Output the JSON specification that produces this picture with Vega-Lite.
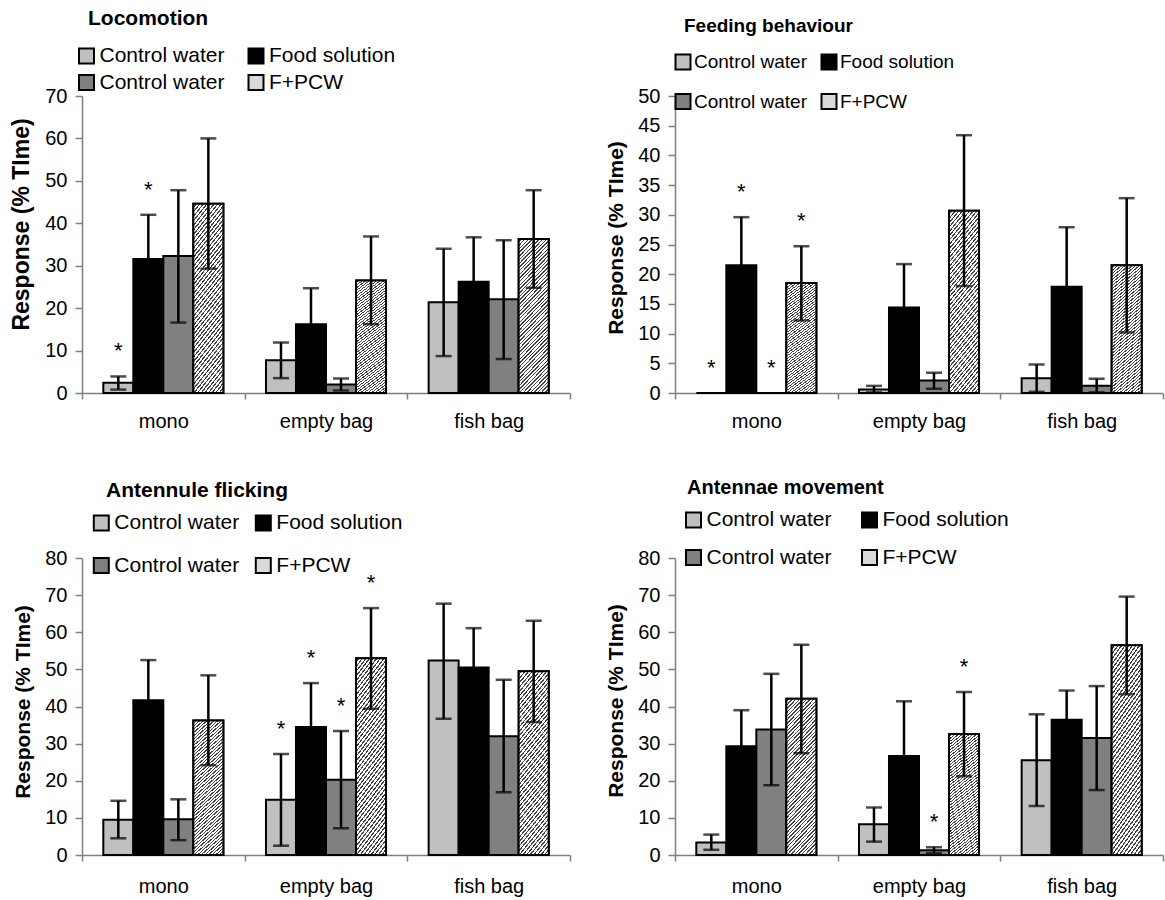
{
  "$schema": "https://vega.github.io/schema/vega-lite/v6.json",
  "padding": {"left": 10, "top": 7, "right": 2, "bottom": 2},
  "background": "white",
  "config": {
    "font": "Liberation Sans",
    "view": {"stroke": null},
    "range": {"category": ["#c0c0c0", "#000000", "#808080", "#d9d9d9"]},
    "axis": {"grid": false, "domainColor": "#7f7f7f", "domainWidth": 1.5, "tickColor": "#7f7f7f", "tickWidth": 1.5, "labelColor": "black", "labelFontSize": 20, "titleColor": "black", "titleFontSize": 20, "titleFontWeight": "bold"},
    "axisY": {"tickSize": 7, "labelPadding": 8, "titlePadding": 11, "labelOverlap": false},
    "axisX": {"tickSize": 6, "labelPadding": 12, "labelAngle": 0},
    "legend": {"symbolType": "square", "symbolSize": 225, "symbolStrokeColor": "black", "symbolStrokeWidth": 2, "labelFontSize": 20, "labelColor": "black", "labelOffset": 2.5},
    "title": {"fontSize": 20, "fontWeight": "bold", "anchor": "start", "frame": "group", "color": "black"}
  },
  "datasets": {
    "d": [
      {"panel": "loc", "cat": "mono", "trt": "Control water 1", "mean": 2.4, "lo": 0.8, "hi": 3.9, "sig": "*"},
      {"panel": "loc", "cat": "mono", "trt": "Food solution", "mean": 31.6, "lo": 21.2, "hi": 42.0, "sig": "*"},
      {"panel": "loc", "cat": "mono", "trt": "Control water 2", "mean": 32.3, "lo": 16.6, "hi": 47.8, "sig": ""},
      {"panel": "loc", "cat": "mono", "trt": "F+PCW", "mean": 44.6, "lo": 29.3, "hi": 60.0, "sig": ""},
      {"panel": "loc", "cat": "empty bag", "trt": "Control water 1", "mean": 7.7, "lo": 3.5, "hi": 11.9, "sig": ""},
      {"panel": "loc", "cat": "empty bag", "trt": "Food solution", "mean": 16.2, "lo": 7.7, "hi": 24.7, "sig": ""},
      {"panel": "loc", "cat": "empty bag", "trt": "Control water 2", "mean": 2.0, "lo": 0.6, "hi": 3.4, "sig": ""},
      {"panel": "loc", "cat": "empty bag", "trt": "F+PCW", "mean": 26.5, "lo": 16.2, "hi": 36.9, "sig": ""},
      {"panel": "loc", "cat": "fish bag", "trt": "Control water 1", "mean": 21.4, "lo": 8.7, "hi": 34.0, "sig": ""},
      {"panel": "loc", "cat": "fish bag", "trt": "Food solution", "mean": 26.2, "lo": 15.7, "hi": 36.7, "sig": ""},
      {"panel": "loc", "cat": "fish bag", "trt": "Control water 2", "mean": 22.1, "lo": 8.0, "hi": 36.0, "sig": ""},
      {"panel": "loc", "cat": "fish bag", "trt": "F+PCW", "mean": 36.3, "lo": 24.8, "hi": 47.8, "sig": ""},

      {"panel": "feed", "cat": "mono", "trt": "Control water 1", "mean": 0, "lo": 0, "hi": 0, "sig": "*"},
      {"panel": "feed", "cat": "mono", "trt": "Food solution", "mean": 21.5, "lo": 13.4, "hi": 29.6, "sig": "*"},
      {"panel": "feed", "cat": "mono", "trt": "Control water 2", "mean": 0, "lo": 0, "hi": 0, "sig": "*"},
      {"panel": "feed", "cat": "mono", "trt": "F+PCW", "mean": 18.5, "lo": 12.2, "hi": 24.7, "sig": "*"},
      {"panel": "feed", "cat": "empty bag", "trt": "Control water 1", "mean": 0.6, "lo": 0.1, "hi": 1.2, "sig": ""},
      {"panel": "feed", "cat": "empty bag", "trt": "Food solution", "mean": 14.4, "lo": 7.1, "hi": 21.7, "sig": ""},
      {"panel": "feed", "cat": "empty bag", "trt": "Control water 2", "mean": 2.1, "lo": 0.7, "hi": 3.4, "sig": ""},
      {"panel": "feed", "cat": "empty bag", "trt": "F+PCW", "mean": 30.7, "lo": 18.0, "hi": 43.4, "sig": ""},
      {"panel": "feed", "cat": "fish bag", "trt": "Control water 1", "mean": 2.5, "lo": 0.2, "hi": 4.8, "sig": ""},
      {"panel": "feed", "cat": "fish bag", "trt": "Food solution", "mean": 17.9, "lo": 7.9, "hi": 27.9, "sig": ""},
      {"panel": "feed", "cat": "fish bag", "trt": "Control water 2", "mean": 1.2, "lo": 0.1, "hi": 2.4, "sig": ""},
      {"panel": "feed", "cat": "fish bag", "trt": "F+PCW", "mean": 21.5, "lo": 10.2, "hi": 32.8, "sig": ""},

      {"panel": "ant", "cat": "mono", "trt": "Control water 1", "mean": 9.5, "lo": 4.5, "hi": 14.6, "sig": ""},
      {"panel": "ant", "cat": "mono", "trt": "Food solution", "mean": 41.7, "lo": 30.9, "hi": 52.5, "sig": ""},
      {"panel": "ant", "cat": "mono", "trt": "Control water 2", "mean": 9.6, "lo": 4.0, "hi": 15.0, "sig": ""},
      {"panel": "ant", "cat": "mono", "trt": "F+PCW", "mean": 36.2, "lo": 24.2, "hi": 48.4, "sig": ""},
      {"panel": "ant", "cat": "empty bag", "trt": "Control water 1", "mean": 14.9, "lo": 2.5, "hi": 27.2, "sig": "*"},
      {"panel": "ant", "cat": "empty bag", "trt": "Food solution", "mean": 34.5, "lo": 22.7, "hi": 46.3, "sig": "*"},
      {"panel": "ant", "cat": "empty bag", "trt": "Control water 2", "mean": 20.3, "lo": 7.2, "hi": 33.4, "sig": "*"},
      {"panel": "ant", "cat": "empty bag", "trt": "F+PCW", "mean": 53.0, "lo": 39.4, "hi": 66.5, "sig": "*"},
      {"panel": "ant", "cat": "fish bag", "trt": "Control water 1", "mean": 52.4, "lo": 36.7, "hi": 67.7, "sig": ""},
      {"panel": "ant", "cat": "fish bag", "trt": "Food solution", "mean": 50.5, "lo": 39.9, "hi": 61.1, "sig": ""},
      {"panel": "ant", "cat": "fish bag", "trt": "Control water 2", "mean": 32.0, "lo": 16.9, "hi": 47.2, "sig": ""},
      {"panel": "ant", "cat": "fish bag", "trt": "F+PCW", "mean": 49.5, "lo": 35.8, "hi": 63.1, "sig": ""},

      {"panel": "antm", "cat": "mono", "trt": "Control water 1", "mean": 3.4, "lo": 1.4, "hi": 5.5, "sig": ""},
      {"panel": "antm", "cat": "mono", "trt": "Food solution", "mean": 29.3, "lo": 19.6, "hi": 39.0, "sig": ""},
      {"panel": "antm", "cat": "mono", "trt": "Control water 2", "mean": 33.8, "lo": 18.8, "hi": 48.8, "sig": ""},
      {"panel": "antm", "cat": "mono", "trt": "F+PCW", "mean": 42.1, "lo": 27.4, "hi": 56.6, "sig": ""},
      {"panel": "antm", "cat": "empty bag", "trt": "Control water 1", "mean": 8.3, "lo": 3.6, "hi": 12.8, "sig": ""},
      {"panel": "antm", "cat": "empty bag", "trt": "Food solution", "mean": 26.7, "lo": 12.0, "hi": 41.4, "sig": ""},
      {"panel": "antm", "cat": "empty bag", "trt": "Control water 2", "mean": 1.3, "lo": 0.5, "hi": 2.1, "sig": "*"},
      {"panel": "antm", "cat": "empty bag", "trt": "F+PCW", "mean": 32.6, "lo": 21.2, "hi": 43.9, "sig": "*"},
      {"panel": "antm", "cat": "fish bag", "trt": "Control water 1", "mean": 25.5, "lo": 13.2, "hi": 37.9, "sig": ""},
      {"panel": "antm", "cat": "fish bag", "trt": "Food solution", "mean": 36.4, "lo": 28.5, "hi": 44.3, "sig": ""},
      {"panel": "antm", "cat": "fish bag", "trt": "Control water 2", "mean": 31.5, "lo": 17.5, "hi": 45.5, "sig": ""},
      {"panel": "antm", "cat": "fish bag", "trt": "F+PCW", "mean": 56.5, "lo": 43.3, "hi": 69.6, "sig": ""}
    ]
  },
  "columns": 2,
  "bounds": "flush",
  "spacing": {"row": 165, "column": 105},
  "resolve": {"scale": {"x": "independent", "y": "independent", "color": "independent"}, "legend": {"color": "independent"}},
  "concat": [
    {
      "width": 488, "height": 297,
      "data": {"name": "d"},
      "title": {"text": "Locomotion", "dx": 6, "offset": 17, "fontSize": 21},
      "transform": [{"filter": "datum.panel == 'loc'"}],
      "encoding": {
        "x": {"field": "cat", "type": "nominal", "scale": {"domain": ["mono", "empty bag", "fish bag"], "paddingInner": 0, "paddingOuter": 0}, "axis": {"title": null, "tickBand": "extent", "labelAngle": 0}},
        "xOffset": {"field": "trt", "type": "nominal", "scale": {"domain": ["Control water 1", "Food solution", "Control water 2", "F+PCW"], "paddingInner": 0, "paddingOuter": 0.71}}
      },
      "layer": [
        {"mark": {"type": "bar", "stroke": "black", "strokeWidth": 2},
         "encoding": {
           "y": {"field": "mean", "type": "quantitative", "title": "Response (% TIme)", "scale": {"domain": [0, 70], "nice": false}, "axis": {"values": [0, 10, 20, 30, 40, 50, 60, 70], "labelOverlap": false, "titleFontSize": 23, "titleY": 128}},
           "color": {"field": "trt", "type": "nominal", "scale": {"domain": ["Control water 1", "Food solution", "Control water 2", "F+PCW"]},
             "legend": {"title": null, "orient": "none", "direction": "horizontal", "legendX": -6, "legendY": -50.5, "columns": 2, "columnPadding": 19.5, "rowPadding": 3.5, "labelFontSize": 21,
               "labelExpr": "datum.label == 'Control water 1' || datum.label == 'Control water 2' ? 'Control water' : datum.label"}}
         }},
        {"transform": [{"filter": "datum.trt == 'F+PCW'"}],
         "mark": {"type": "bar", "stroke": "black", "strokeWidth": 2,
          "fill": {"gradient": "linear", "x1": 0, "y1": 0, "x2": 0.231, "y2": 1.154, "stops": [
          {"offset": 0, "color": "#fff"}, {"offset": 0.012, "color": "#fff"}, {"offset": 0.012, "color": "#444"}, {"offset": 0.02, "color": "#444"},
          {"offset": 0.02, "color": "#fff"}, {"offset": 0.032, "color": "#fff"}, {"offset": 0.032, "color": "#444"}, {"offset": 0.04, "color": "#444"},
          {"offset": 0.04, "color": "#fff"}, {"offset": 0.052, "color": "#fff"}, {"offset": 0.052, "color": "#444"}, {"offset": 0.06, "color": "#444"},
          {"offset": 0.06, "color": "#fff"}, {"offset": 0.072, "color": "#fff"}, {"offset": 0.072, "color": "#444"}, {"offset": 0.08, "color": "#444"},
          {"offset": 0.08, "color": "#fff"}, {"offset": 0.092, "color": "#fff"}, {"offset": 0.092, "color": "#444"}, {"offset": 0.1, "color": "#444"},
          {"offset": 0.1, "color": "#fff"}, {"offset": 0.112, "color": "#fff"}, {"offset": 0.112, "color": "#444"}, {"offset": 0.12, "color": "#444"},
          {"offset": 0.12, "color": "#fff"}, {"offset": 0.132, "color": "#fff"}, {"offset": 0.132, "color": "#444"}, {"offset": 0.14, "color": "#444"},
          {"offset": 0.14, "color": "#fff"}, {"offset": 0.152, "color": "#fff"}, {"offset": 0.152, "color": "#444"}, {"offset": 0.16, "color": "#444"},
          {"offset": 0.16, "color": "#fff"}, {"offset": 0.172, "color": "#fff"}, {"offset": 0.172, "color": "#444"}, {"offset": 0.18, "color": "#444"},
          {"offset": 0.18, "color": "#fff"}, {"offset": 0.192, "color": "#fff"}, {"offset": 0.192, "color": "#444"}, {"offset": 0.2, "color": "#444"},
          {"offset": 0.2, "color": "#fff"}, {"offset": 0.212, "color": "#fff"}, {"offset": 0.212, "color": "#444"}, {"offset": 0.22, "color": "#444"},
          {"offset": 0.22, "color": "#fff"}, {"offset": 0.232, "color": "#fff"}, {"offset": 0.232, "color": "#444"}, {"offset": 0.24, "color": "#444"},
          {"offset": 0.24, "color": "#fff"}, {"offset": 0.252, "color": "#fff"}, {"offset": 0.252, "color": "#444"}, {"offset": 0.26, "color": "#444"},
          {"offset": 0.26, "color": "#fff"}, {"offset": 0.272, "color": "#fff"}, {"offset": 0.272, "color": "#444"}, {"offset": 0.28, "color": "#444"},
          {"offset": 0.28, "color": "#fff"}, {"offset": 0.292, "color": "#fff"}, {"offset": 0.292, "color": "#444"}, {"offset": 0.3, "color": "#444"},
          {"offset": 0.3, "color": "#fff"}, {"offset": 0.312, "color": "#fff"}, {"offset": 0.312, "color": "#444"}, {"offset": 0.32, "color": "#444"},
          {"offset": 0.32, "color": "#fff"}, {"offset": 0.332, "color": "#fff"}, {"offset": 0.332, "color": "#444"}, {"offset": 0.34, "color": "#444"},
          {"offset": 0.34, "color": "#fff"}, {"offset": 0.352, "color": "#fff"}, {"offset": 0.352, "color": "#444"}, {"offset": 0.36, "color": "#444"},
          {"offset": 0.36, "color": "#fff"}, {"offset": 0.372, "color": "#fff"}, {"offset": 0.372, "color": "#444"}, {"offset": 0.38, "color": "#444"},
          {"offset": 0.38, "color": "#fff"}, {"offset": 0.392, "color": "#fff"}, {"offset": 0.392, "color": "#444"}, {"offset": 0.4, "color": "#444"},
          {"offset": 0.4, "color": "#fff"}, {"offset": 0.412, "color": "#fff"}, {"offset": 0.412, "color": "#444"}, {"offset": 0.42, "color": "#444"},
          {"offset": 0.42, "color": "#fff"}, {"offset": 0.432, "color": "#fff"}, {"offset": 0.432, "color": "#444"}, {"offset": 0.44, "color": "#444"},
          {"offset": 0.44, "color": "#fff"}, {"offset": 0.452, "color": "#fff"}, {"offset": 0.452, "color": "#444"}, {"offset": 0.46, "color": "#444"},
          {"offset": 0.46, "color": "#fff"}, {"offset": 0.472, "color": "#fff"}, {"offset": 0.472, "color": "#444"}, {"offset": 0.48, "color": "#444"},
          {"offset": 0.48, "color": "#fff"}, {"offset": 0.492, "color": "#fff"}, {"offset": 0.492, "color": "#444"}, {"offset": 0.5, "color": "#444"},
          {"offset": 0.5, "color": "#fff"}, {"offset": 0.512, "color": "#fff"}, {"offset": 0.512, "color": "#444"}, {"offset": 0.52, "color": "#444"},
          {"offset": 0.52, "color": "#fff"}, {"offset": 0.532, "color": "#fff"}, {"offset": 0.532, "color": "#444"}, {"offset": 0.54, "color": "#444"},
          {"offset": 0.54, "color": "#fff"}, {"offset": 0.552, "color": "#fff"}, {"offset": 0.552, "color": "#444"}, {"offset": 0.56, "color": "#444"},
          {"offset": 0.56, "color": "#fff"}, {"offset": 0.572, "color": "#fff"}, {"offset": 0.572, "color": "#444"}, {"offset": 0.58, "color": "#444"},
          {"offset": 0.58, "color": "#fff"}, {"offset": 0.592, "color": "#fff"}, {"offset": 0.592, "color": "#444"}, {"offset": 0.6, "color": "#444"},
          {"offset": 0.6, "color": "#fff"}, {"offset": 0.612, "color": "#fff"}, {"offset": 0.612, "color": "#444"}, {"offset": 0.62, "color": "#444"},
          {"offset": 0.62, "color": "#fff"}, {"offset": 0.632, "color": "#fff"}, {"offset": 0.632, "color": "#444"}, {"offset": 0.64, "color": "#444"},
          {"offset": 0.64, "color": "#fff"}, {"offset": 0.652, "color": "#fff"}, {"offset": 0.652, "color": "#444"}, {"offset": 0.66, "color": "#444"},
          {"offset": 0.66, "color": "#fff"}, {"offset": 0.672, "color": "#fff"}, {"offset": 0.672, "color": "#444"}, {"offset": 0.68, "color": "#444"},
          {"offset": 0.68, "color": "#fff"}, {"offset": 0.692, "color": "#fff"}, {"offset": 0.692, "color": "#444"}, {"offset": 0.7, "color": "#444"},
          {"offset": 0.7, "color": "#fff"}, {"offset": 0.712, "color": "#fff"}, {"offset": 0.712, "color": "#444"}, {"offset": 0.72, "color": "#444"},
          {"offset": 0.72, "color": "#fff"}, {"offset": 0.732, "color": "#fff"}, {"offset": 0.732, "color": "#444"}, {"offset": 0.74, "color": "#444"},
          {"offset": 0.74, "color": "#fff"}, {"offset": 0.752, "color": "#fff"}, {"offset": 0.752, "color": "#444"}, {"offset": 0.76, "color": "#444"},
          {"offset": 0.76, "color": "#fff"}, {"offset": 0.772, "color": "#fff"}, {"offset": 0.772, "color": "#444"}, {"offset": 0.78, "color": "#444"},
          {"offset": 0.78, "color": "#fff"}, {"offset": 0.792, "color": "#fff"}, {"offset": 0.792, "color": "#444"}, {"offset": 0.8, "color": "#444"},
          {"offset": 0.8, "color": "#fff"}, {"offset": 0.812, "color": "#fff"}, {"offset": 0.812, "color": "#444"}, {"offset": 0.82, "color": "#444"},
          {"offset": 0.82, "color": "#fff"}, {"offset": 0.832, "color": "#fff"}, {"offset": 0.832, "color": "#444"}, {"offset": 0.84, "color": "#444"},
          {"offset": 0.84, "color": "#fff"}, {"offset": 0.852, "color": "#fff"}, {"offset": 0.852, "color": "#444"}, {"offset": 0.86, "color": "#444"},
          {"offset": 0.86, "color": "#fff"}, {"offset": 0.872, "color": "#fff"}, {"offset": 0.872, "color": "#444"}, {"offset": 0.88, "color": "#444"},
          {"offset": 0.88, "color": "#fff"}, {"offset": 0.892, "color": "#fff"}, {"offset": 0.892, "color": "#444"}, {"offset": 0.9, "color": "#444"},
          {"offset": 0.9, "color": "#fff"}, {"offset": 0.912, "color": "#fff"}, {"offset": 0.912, "color": "#444"}, {"offset": 0.92, "color": "#444"},
          {"offset": 0.92, "color": "#fff"}, {"offset": 0.932, "color": "#fff"}, {"offset": 0.932, "color": "#444"}, {"offset": 0.94, "color": "#444"},
          {"offset": 0.94, "color": "#fff"}, {"offset": 0.952, "color": "#fff"}, {"offset": 0.952, "color": "#444"}, {"offset": 0.96, "color": "#444"},
          {"offset": 0.96, "color": "#fff"}, {"offset": 0.972, "color": "#fff"}, {"offset": 0.972, "color": "#444"}, {"offset": 0.98, "color": "#444"},
          {"offset": 0.98, "color": "#fff"}, {"offset": 0.992, "color": "#fff"}, {"offset": 0.992, "color": "#444"}, {"offset": 1, "color": "#444"}]}},
         "encoding": {"y": {"field": "mean", "type": "quantitative", "title": "Response (% TIme)", "axis": {"values": [0, 10, 20, 30, 40, 50, 60, 70], "labelOverlap": false, "titleFontSize": 23, "titleY": 128}}}},
        {"transform": [{"filter": "datum.hi > 0"}], "mark": {"type": "rule", "color": "black", "strokeWidth": 2.5},
         "encoding": {"y": {"field": "lo", "type": "quantitative", "title": "Response (% TIme)", "axis": {"values": [0, 10, 20, 30, 40, 50, 60, 70], "labelOverlap": false, "titleFontSize": 23, "titleY": 128}}, "y2": {"field": "hi"}}},
        {"transform": [{"filter": "datum.hi > 0"}], "mark": {"type": "tick", "color": "black", "thickness": 2.5, "size": 16},
         "encoding": {"y": {"field": "hi", "type": "quantitative", "title": "Response (% TIme)", "axis": {"values": [0, 10, 20, 30, 40, 50, 60, 70], "labelOverlap": false, "titleFontSize": 23, "titleY": 128}}}},
        {"transform": [{"filter": "datum.hi > 0"}], "mark": {"type": "tick", "color": "black", "thickness": 2.5, "size": 16},
         "encoding": {"y": {"field": "lo", "type": "quantitative", "title": "Response (% TIme)", "axis": {"values": [0, 10, 20, 30, 40, 50, 60, 70], "labelOverlap": false, "titleFontSize": 23, "titleY": 128}}}},
        {"transform": [{"filter": "datum.sig == '*'"}], "mark": {"type": "text", "text": "*", "dy": -25, "fontSize": 22, "color": "black"},
         "encoding": {"y": {"field": "hi", "type": "quantitative", "title": "Response (% TIme)", "axis": {"values": [0, 10, 20, 30, 40, 50, 60, 70], "labelOverlap": false, "titleFontSize": 23, "titleY": 128}}}}
      ]
    },
    {
      "width": 488, "height": 297,
      "data": {"name": "d"},
      "title": {"text": "Feeding behaviour", "dx": 9, "offset": 16.5, "fontSize": 19},
      "transform": [{"filter": "datum.panel == 'feed'"}],
      "encoding": {
        "x": {"field": "cat", "type": "nominal", "scale": {"domain": ["mono", "empty bag", "fish bag"], "paddingInner": 0, "paddingOuter": 0}, "axis": {"title": null, "tickBand": "extent", "labelAngle": 0}},
        "xOffset": {"field": "trt", "type": "nominal", "scale": {"domain": ["Control water 1", "Food solution", "Control water 2", "F+PCW"], "paddingInner": 0, "paddingOuter": 0.71}}
      },
      "layer": [
        {"mark": {"type": "bar", "stroke": "black", "strokeWidth": 2},
         "encoding": {
           "y": {"field": "mean", "type": "quantitative", "title": "Response (% TIme)", "scale": {"domain": [0, 50], "nice": false}, "axis": {"values": [0, 5, 10, 15, 20, 25, 30, 35, 40, 45, 50], "labelOverlap": false, "titleFontSize": 21, "titleY": 141.5}},
           "color": {"field": "trt", "type": "nominal", "scale": {"domain": ["Control water 1", "Food solution", "Control water 2", "F+PCW"]},
             "legend": {"title": null, "orient": "none", "direction": "horizontal", "legendX": -1.5, "legendY": -43.5, "columns": 2, "columnPadding": 10, "rowPadding": 16.5, "labelFontSize": 19, "labelOffset": 1.5,
               "labelExpr": "datum.label == 'Control water 1' || datum.label == 'Control water 2' ? 'Control water' : datum.label"}}
         }},
        {"transform": [{"filter": "datum.trt == 'F+PCW'"}],
         "mark": {"type": "bar", "stroke": "black", "strokeWidth": 2,
          "fill": {"gradient": "linear", "x1": 0, "y1": 0, "x2": 0.231, "y2": 1.154, "stops": [
          {"offset": 0, "color": "#fff"}, {"offset": 0.012, "color": "#fff"}, {"offset": 0.012, "color": "#444"}, {"offset": 0.02, "color": "#444"},
          {"offset": 0.02, "color": "#fff"}, {"offset": 0.032, "color": "#fff"}, {"offset": 0.032, "color": "#444"}, {"offset": 0.04, "color": "#444"},
          {"offset": 0.04, "color": "#fff"}, {"offset": 0.052, "color": "#fff"}, {"offset": 0.052, "color": "#444"}, {"offset": 0.06, "color": "#444"},
          {"offset": 0.06, "color": "#fff"}, {"offset": 0.072, "color": "#fff"}, {"offset": 0.072, "color": "#444"}, {"offset": 0.08, "color": "#444"},
          {"offset": 0.08, "color": "#fff"}, {"offset": 0.092, "color": "#fff"}, {"offset": 0.092, "color": "#444"}, {"offset": 0.1, "color": "#444"},
          {"offset": 0.1, "color": "#fff"}, {"offset": 0.112, "color": "#fff"}, {"offset": 0.112, "color": "#444"}, {"offset": 0.12, "color": "#444"},
          {"offset": 0.12, "color": "#fff"}, {"offset": 0.132, "color": "#fff"}, {"offset": 0.132, "color": "#444"}, {"offset": 0.14, "color": "#444"},
          {"offset": 0.14, "color": "#fff"}, {"offset": 0.152, "color": "#fff"}, {"offset": 0.152, "color": "#444"}, {"offset": 0.16, "color": "#444"},
          {"offset": 0.16, "color": "#fff"}, {"offset": 0.172, "color": "#fff"}, {"offset": 0.172, "color": "#444"}, {"offset": 0.18, "color": "#444"},
          {"offset": 0.18, "color": "#fff"}, {"offset": 0.192, "color": "#fff"}, {"offset": 0.192, "color": "#444"}, {"offset": 0.2, "color": "#444"},
          {"offset": 0.2, "color": "#fff"}, {"offset": 0.212, "color": "#fff"}, {"offset": 0.212, "color": "#444"}, {"offset": 0.22, "color": "#444"},
          {"offset": 0.22, "color": "#fff"}, {"offset": 0.232, "color": "#fff"}, {"offset": 0.232, "color": "#444"}, {"offset": 0.24, "color": "#444"},
          {"offset": 0.24, "color": "#fff"}, {"offset": 0.252, "color": "#fff"}, {"offset": 0.252, "color": "#444"}, {"offset": 0.26, "color": "#444"},
          {"offset": 0.26, "color": "#fff"}, {"offset": 0.272, "color": "#fff"}, {"offset": 0.272, "color": "#444"}, {"offset": 0.28, "color": "#444"},
          {"offset": 0.28, "color": "#fff"}, {"offset": 0.292, "color": "#fff"}, {"offset": 0.292, "color": "#444"}, {"offset": 0.3, "color": "#444"},
          {"offset": 0.3, "color": "#fff"}, {"offset": 0.312, "color": "#fff"}, {"offset": 0.312, "color": "#444"}, {"offset": 0.32, "color": "#444"},
          {"offset": 0.32, "color": "#fff"}, {"offset": 0.332, "color": "#fff"}, {"offset": 0.332, "color": "#444"}, {"offset": 0.34, "color": "#444"},
          {"offset": 0.34, "color": "#fff"}, {"offset": 0.352, "color": "#fff"}, {"offset": 0.352, "color": "#444"}, {"offset": 0.36, "color": "#444"},
          {"offset": 0.36, "color": "#fff"}, {"offset": 0.372, "color": "#fff"}, {"offset": 0.372, "color": "#444"}, {"offset": 0.38, "color": "#444"},
          {"offset": 0.38, "color": "#fff"}, {"offset": 0.392, "color": "#fff"}, {"offset": 0.392, "color": "#444"}, {"offset": 0.4, "color": "#444"},
          {"offset": 0.4, "color": "#fff"}, {"offset": 0.412, "color": "#fff"}, {"offset": 0.412, "color": "#444"}, {"offset": 0.42, "color": "#444"},
          {"offset": 0.42, "color": "#fff"}, {"offset": 0.432, "color": "#fff"}, {"offset": 0.432, "color": "#444"}, {"offset": 0.44, "color": "#444"},
          {"offset": 0.44, "color": "#fff"}, {"offset": 0.452, "color": "#fff"}, {"offset": 0.452, "color": "#444"}, {"offset": 0.46, "color": "#444"},
          {"offset": 0.46, "color": "#fff"}, {"offset": 0.472, "color": "#fff"}, {"offset": 0.472, "color": "#444"}, {"offset": 0.48, "color": "#444"},
          {"offset": 0.48, "color": "#fff"}, {"offset": 0.492, "color": "#fff"}, {"offset": 0.492, "color": "#444"}, {"offset": 0.5, "color": "#444"},
          {"offset": 0.5, "color": "#fff"}, {"offset": 0.512, "color": "#fff"}, {"offset": 0.512, "color": "#444"}, {"offset": 0.52, "color": "#444"},
          {"offset": 0.52, "color": "#fff"}, {"offset": 0.532, "color": "#fff"}, {"offset": 0.532, "color": "#444"}, {"offset": 0.54, "color": "#444"},
          {"offset": 0.54, "color": "#fff"}, {"offset": 0.552, "color": "#fff"}, {"offset": 0.552, "color": "#444"}, {"offset": 0.56, "color": "#444"},
          {"offset": 0.56, "color": "#fff"}, {"offset": 0.572, "color": "#fff"}, {"offset": 0.572, "color": "#444"}, {"offset": 0.58, "color": "#444"},
          {"offset": 0.58, "color": "#fff"}, {"offset": 0.592, "color": "#fff"}, {"offset": 0.592, "color": "#444"}, {"offset": 0.6, "color": "#444"},
          {"offset": 0.6, "color": "#fff"}, {"offset": 0.612, "color": "#fff"}, {"offset": 0.612, "color": "#444"}, {"offset": 0.62, "color": "#444"},
          {"offset": 0.62, "color": "#fff"}, {"offset": 0.632, "color": "#fff"}, {"offset": 0.632, "color": "#444"}, {"offset": 0.64, "color": "#444"},
          {"offset": 0.64, "color": "#fff"}, {"offset": 0.652, "color": "#fff"}, {"offset": 0.652, "color": "#444"}, {"offset": 0.66, "color": "#444"},
          {"offset": 0.66, "color": "#fff"}, {"offset": 0.672, "color": "#fff"}, {"offset": 0.672, "color": "#444"}, {"offset": 0.68, "color": "#444"},
          {"offset": 0.68, "color": "#fff"}, {"offset": 0.692, "color": "#fff"}, {"offset": 0.692, "color": "#444"}, {"offset": 0.7, "color": "#444"},
          {"offset": 0.7, "color": "#fff"}, {"offset": 0.712, "color": "#fff"}, {"offset": 0.712, "color": "#444"}, {"offset": 0.72, "color": "#444"},
          {"offset": 0.72, "color": "#fff"}, {"offset": 0.732, "color": "#fff"}, {"offset": 0.732, "color": "#444"}, {"offset": 0.74, "color": "#444"},
          {"offset": 0.74, "color": "#fff"}, {"offset": 0.752, "color": "#fff"}, {"offset": 0.752, "color": "#444"}, {"offset": 0.76, "color": "#444"},
          {"offset": 0.76, "color": "#fff"}, {"offset": 0.772, "color": "#fff"}, {"offset": 0.772, "color": "#444"}, {"offset": 0.78, "color": "#444"},
          {"offset": 0.78, "color": "#fff"}, {"offset": 0.792, "color": "#fff"}, {"offset": 0.792, "color": "#444"}, {"offset": 0.8, "color": "#444"},
          {"offset": 0.8, "color": "#fff"}, {"offset": 0.812, "color": "#fff"}, {"offset": 0.812, "color": "#444"}, {"offset": 0.82, "color": "#444"},
          {"offset": 0.82, "color": "#fff"}, {"offset": 0.832, "color": "#fff"}, {"offset": 0.832, "color": "#444"}, {"offset": 0.84, "color": "#444"},
          {"offset": 0.84, "color": "#fff"}, {"offset": 0.852, "color": "#fff"}, {"offset": 0.852, "color": "#444"}, {"offset": 0.86, "color": "#444"},
          {"offset": 0.86, "color": "#fff"}, {"offset": 0.872, "color": "#fff"}, {"offset": 0.872, "color": "#444"}, {"offset": 0.88, "color": "#444"},
          {"offset": 0.88, "color": "#fff"}, {"offset": 0.892, "color": "#fff"}, {"offset": 0.892, "color": "#444"}, {"offset": 0.9, "color": "#444"},
          {"offset": 0.9, "color": "#fff"}, {"offset": 0.912, "color": "#fff"}, {"offset": 0.912, "color": "#444"}, {"offset": 0.92, "color": "#444"},
          {"offset": 0.92, "color": "#fff"}, {"offset": 0.932, "color": "#fff"}, {"offset": 0.932, "color": "#444"}, {"offset": 0.94, "color": "#444"},
          {"offset": 0.94, "color": "#fff"}, {"offset": 0.952, "color": "#fff"}, {"offset": 0.952, "color": "#444"}, {"offset": 0.96, "color": "#444"},
          {"offset": 0.96, "color": "#fff"}, {"offset": 0.972, "color": "#fff"}, {"offset": 0.972, "color": "#444"}, {"offset": 0.98, "color": "#444"},
          {"offset": 0.98, "color": "#fff"}, {"offset": 0.992, "color": "#fff"}, {"offset": 0.992, "color": "#444"}, {"offset": 1, "color": "#444"}]}},
         "encoding": {"y": {"field": "mean", "type": "quantitative", "title": "Response (% TIme)", "axis": {"values": [0, 5, 10, 15, 20, 25, 30, 35, 40, 45, 50], "labelOverlap": false, "titleFontSize": 21, "titleY": 141.5}}}},
        {"transform": [{"filter": "datum.hi > 0"}], "mark": {"type": "rule", "color": "black", "strokeWidth": 2.5},
         "encoding": {"y": {"field": "lo", "type": "quantitative", "title": "Response (% TIme)", "axis": {"values": [0, 5, 10, 15, 20, 25, 30, 35, 40, 45, 50], "labelOverlap": false, "titleFontSize": 21, "titleY": 141.5}}, "y2": {"field": "hi"}}},
        {"transform": [{"filter": "datum.hi > 0"}], "mark": {"type": "tick", "color": "black", "thickness": 2.5, "size": 16},
         "encoding": {"y": {"field": "hi", "type": "quantitative", "title": "Response (% TIme)", "axis": {"values": [0, 5, 10, 15, 20, 25, 30, 35, 40, 45, 50], "labelOverlap": false, "titleFontSize": 21, "titleY": 141.5}}}},
        {"transform": [{"filter": "datum.hi > 0"}], "mark": {"type": "tick", "color": "black", "thickness": 2.5, "size": 16},
         "encoding": {"y": {"field": "lo", "type": "quantitative", "title": "Response (% TIme)", "axis": {"values": [0, 5, 10, 15, 20, 25, 30, 35, 40, 45, 50], "labelOverlap": false, "titleFontSize": 21, "titleY": 141.5}}}},
        {"transform": [{"filter": "datum.sig == '*'"}], "mark": {"type": "text", "text": "*", "dy": -25, "fontSize": 22, "color": "black"},
         "encoding": {"y": {"field": "hi", "type": "quantitative", "title": "Response (% TIme)", "axis": {"values": [0, 5, 10, 15, 20, 25, 30, 35, 40, 45, 50], "labelOverlap": false, "titleFontSize": 21, "titleY": 141.5}}}}
      ]
    },
    {
      "width": 488, "height": 297,
      "data": {"name": "d"},
      "title": {"text": "Antennule flicking", "dx": 24, "offset": 12, "fontSize": 21},
      "transform": [{"filter": "datum.panel == 'ant'"}],
      "encoding": {
        "x": {"field": "cat", "type": "nominal", "scale": {"domain": ["mono", "empty bag", "fish bag"], "paddingInner": 0, "paddingOuter": 0}, "axis": {"title": null, "tickBand": "extent", "labelAngle": 0, "labelPadding": 15}},
        "xOffset": {"field": "trt", "type": "nominal", "scale": {"domain": ["Control water 1", "Food solution", "Control water 2", "F+PCW"], "paddingInner": 0, "paddingOuter": 0.71}}
      },
      "layer": [
        {"mark": {"type": "bar", "stroke": "black", "strokeWidth": 2},
         "encoding": {
           "y": {"field": "mean", "type": "quantitative", "title": "Response (% TIme)", "scale": {"domain": [0, 80], "nice": false}, "axis": {"values": [0, 10, 20, 30, 40, 50, 60, 70, 80], "labelOverlap": false, "titleFontSize": 21, "titleY": 143.5}},
           "color": {"field": "trt", "type": "nominal", "scale": {"domain": ["Control water 1", "Food solution", "Control water 2", "F+PCW"]},
             "legend": {"title": null, "orient": "none", "direction": "horizontal", "legendX": 8.8, "legendY": -45.5, "columns": 2, "columnPadding": 12, "rowPadding": 19.5, "labelFontSize": 21,
               "labelExpr": "datum.label == 'Control water 1' || datum.label == 'Control water 2' ? 'Control water' : datum.label"}}
         }},
        {"transform": [{"filter": "datum.trt == 'F+PCW'"}],
         "mark": {"type": "bar", "stroke": "black", "strokeWidth": 2,
          "fill": {"gradient": "linear", "x1": 0, "y1": 0, "x2": 0.231, "y2": 1.154, "stops": [
          {"offset": 0, "color": "#fff"}, {"offset": 0.012, "color": "#fff"}, {"offset": 0.012, "color": "#444"}, {"offset": 0.02, "color": "#444"},
          {"offset": 0.02, "color": "#fff"}, {"offset": 0.032, "color": "#fff"}, {"offset": 0.032, "color": "#444"}, {"offset": 0.04, "color": "#444"},
          {"offset": 0.04, "color": "#fff"}, {"offset": 0.052, "color": "#fff"}, {"offset": 0.052, "color": "#444"}, {"offset": 0.06, "color": "#444"},
          {"offset": 0.06, "color": "#fff"}, {"offset": 0.072, "color": "#fff"}, {"offset": 0.072, "color": "#444"}, {"offset": 0.08, "color": "#444"},
          {"offset": 0.08, "color": "#fff"}, {"offset": 0.092, "color": "#fff"}, {"offset": 0.092, "color": "#444"}, {"offset": 0.1, "color": "#444"},
          {"offset": 0.1, "color": "#fff"}, {"offset": 0.112, "color": "#fff"}, {"offset": 0.112, "color": "#444"}, {"offset": 0.12, "color": "#444"},
          {"offset": 0.12, "color": "#fff"}, {"offset": 0.132, "color": "#fff"}, {"offset": 0.132, "color": "#444"}, {"offset": 0.14, "color": "#444"},
          {"offset": 0.14, "color": "#fff"}, {"offset": 0.152, "color": "#fff"}, {"offset": 0.152, "color": "#444"}, {"offset": 0.16, "color": "#444"},
          {"offset": 0.16, "color": "#fff"}, {"offset": 0.172, "color": "#fff"}, {"offset": 0.172, "color": "#444"}, {"offset": 0.18, "color": "#444"},
          {"offset": 0.18, "color": "#fff"}, {"offset": 0.192, "color": "#fff"}, {"offset": 0.192, "color": "#444"}, {"offset": 0.2, "color": "#444"},
          {"offset": 0.2, "color": "#fff"}, {"offset": 0.212, "color": "#fff"}, {"offset": 0.212, "color": "#444"}, {"offset": 0.22, "color": "#444"},
          {"offset": 0.22, "color": "#fff"}, {"offset": 0.232, "color": "#fff"}, {"offset": 0.232, "color": "#444"}, {"offset": 0.24, "color": "#444"},
          {"offset": 0.24, "color": "#fff"}, {"offset": 0.252, "color": "#fff"}, {"offset": 0.252, "color": "#444"}, {"offset": 0.26, "color": "#444"},
          {"offset": 0.26, "color": "#fff"}, {"offset": 0.272, "color": "#fff"}, {"offset": 0.272, "color": "#444"}, {"offset": 0.28, "color": "#444"},
          {"offset": 0.28, "color": "#fff"}, {"offset": 0.292, "color": "#fff"}, {"offset": 0.292, "color": "#444"}, {"offset": 0.3, "color": "#444"},
          {"offset": 0.3, "color": "#fff"}, {"offset": 0.312, "color": "#fff"}, {"offset": 0.312, "color": "#444"}, {"offset": 0.32, "color": "#444"},
          {"offset": 0.32, "color": "#fff"}, {"offset": 0.332, "color": "#fff"}, {"offset": 0.332, "color": "#444"}, {"offset": 0.34, "color": "#444"},
          {"offset": 0.34, "color": "#fff"}, {"offset": 0.352, "color": "#fff"}, {"offset": 0.352, "color": "#444"}, {"offset": 0.36, "color": "#444"},
          {"offset": 0.36, "color": "#fff"}, {"offset": 0.372, "color": "#fff"}, {"offset": 0.372, "color": "#444"}, {"offset": 0.38, "color": "#444"},
          {"offset": 0.38, "color": "#fff"}, {"offset": 0.392, "color": "#fff"}, {"offset": 0.392, "color": "#444"}, {"offset": 0.4, "color": "#444"},
          {"offset": 0.4, "color": "#fff"}, {"offset": 0.412, "color": "#fff"}, {"offset": 0.412, "color": "#444"}, {"offset": 0.42, "color": "#444"},
          {"offset": 0.42, "color": "#fff"}, {"offset": 0.432, "color": "#fff"}, {"offset": 0.432, "color": "#444"}, {"offset": 0.44, "color": "#444"},
          {"offset": 0.44, "color": "#fff"}, {"offset": 0.452, "color": "#fff"}, {"offset": 0.452, "color": "#444"}, {"offset": 0.46, "color": "#444"},
          {"offset": 0.46, "color": "#fff"}, {"offset": 0.472, "color": "#fff"}, {"offset": 0.472, "color": "#444"}, {"offset": 0.48, "color": "#444"},
          {"offset": 0.48, "color": "#fff"}, {"offset": 0.492, "color": "#fff"}, {"offset": 0.492, "color": "#444"}, {"offset": 0.5, "color": "#444"},
          {"offset": 0.5, "color": "#fff"}, {"offset": 0.512, "color": "#fff"}, {"offset": 0.512, "color": "#444"}, {"offset": 0.52, "color": "#444"},
          {"offset": 0.52, "color": "#fff"}, {"offset": 0.532, "color": "#fff"}, {"offset": 0.532, "color": "#444"}, {"offset": 0.54, "color": "#444"},
          {"offset": 0.54, "color": "#fff"}, {"offset": 0.552, "color": "#fff"}, {"offset": 0.552, "color": "#444"}, {"offset": 0.56, "color": "#444"},
          {"offset": 0.56, "color": "#fff"}, {"offset": 0.572, "color": "#fff"}, {"offset": 0.572, "color": "#444"}, {"offset": 0.58, "color": "#444"},
          {"offset": 0.58, "color": "#fff"}, {"offset": 0.592, "color": "#fff"}, {"offset": 0.592, "color": "#444"}, {"offset": 0.6, "color": "#444"},
          {"offset": 0.6, "color": "#fff"}, {"offset": 0.612, "color": "#fff"}, {"offset": 0.612, "color": "#444"}, {"offset": 0.62, "color": "#444"},
          {"offset": 0.62, "color": "#fff"}, {"offset": 0.632, "color": "#fff"}, {"offset": 0.632, "color": "#444"}, {"offset": 0.64, "color": "#444"},
          {"offset": 0.64, "color": "#fff"}, {"offset": 0.652, "color": "#fff"}, {"offset": 0.652, "color": "#444"}, {"offset": 0.66, "color": "#444"},
          {"offset": 0.66, "color": "#fff"}, {"offset": 0.672, "color": "#fff"}, {"offset": 0.672, "color": "#444"}, {"offset": 0.68, "color": "#444"},
          {"offset": 0.68, "color": "#fff"}, {"offset": 0.692, "color": "#fff"}, {"offset": 0.692, "color": "#444"}, {"offset": 0.7, "color": "#444"},
          {"offset": 0.7, "color": "#fff"}, {"offset": 0.712, "color": "#fff"}, {"offset": 0.712, "color": "#444"}, {"offset": 0.72, "color": "#444"},
          {"offset": 0.72, "color": "#fff"}, {"offset": 0.732, "color": "#fff"}, {"offset": 0.732, "color": "#444"}, {"offset": 0.74, "color": "#444"},
          {"offset": 0.74, "color": "#fff"}, {"offset": 0.752, "color": "#fff"}, {"offset": 0.752, "color": "#444"}, {"offset": 0.76, "color": "#444"},
          {"offset": 0.76, "color": "#fff"}, {"offset": 0.772, "color": "#fff"}, {"offset": 0.772, "color": "#444"}, {"offset": 0.78, "color": "#444"},
          {"offset": 0.78, "color": "#fff"}, {"offset": 0.792, "color": "#fff"}, {"offset": 0.792, "color": "#444"}, {"offset": 0.8, "color": "#444"},
          {"offset": 0.8, "color": "#fff"}, {"offset": 0.812, "color": "#fff"}, {"offset": 0.812, "color": "#444"}, {"offset": 0.82, "color": "#444"},
          {"offset": 0.82, "color": "#fff"}, {"offset": 0.832, "color": "#fff"}, {"offset": 0.832, "color": "#444"}, {"offset": 0.84, "color": "#444"},
          {"offset": 0.84, "color": "#fff"}, {"offset": 0.852, "color": "#fff"}, {"offset": 0.852, "color": "#444"}, {"offset": 0.86, "color": "#444"},
          {"offset": 0.86, "color": "#fff"}, {"offset": 0.872, "color": "#fff"}, {"offset": 0.872, "color": "#444"}, {"offset": 0.88, "color": "#444"},
          {"offset": 0.88, "color": "#fff"}, {"offset": 0.892, "color": "#fff"}, {"offset": 0.892, "color": "#444"}, {"offset": 0.9, "color": "#444"},
          {"offset": 0.9, "color": "#fff"}, {"offset": 0.912, "color": "#fff"}, {"offset": 0.912, "color": "#444"}, {"offset": 0.92, "color": "#444"},
          {"offset": 0.92, "color": "#fff"}, {"offset": 0.932, "color": "#fff"}, {"offset": 0.932, "color": "#444"}, {"offset": 0.94, "color": "#444"},
          {"offset": 0.94, "color": "#fff"}, {"offset": 0.952, "color": "#fff"}, {"offset": 0.952, "color": "#444"}, {"offset": 0.96, "color": "#444"},
          {"offset": 0.96, "color": "#fff"}, {"offset": 0.972, "color": "#fff"}, {"offset": 0.972, "color": "#444"}, {"offset": 0.98, "color": "#444"},
          {"offset": 0.98, "color": "#fff"}, {"offset": 0.992, "color": "#fff"}, {"offset": 0.992, "color": "#444"}, {"offset": 1, "color": "#444"}]}},
         "encoding": {"y": {"field": "mean", "type": "quantitative", "title": "Response (% TIme)", "axis": {"values": [0, 10, 20, 30, 40, 50, 60, 70, 80], "labelOverlap": false, "titleFontSize": 21, "titleY": 143.5}}}},
        {"transform": [{"filter": "datum.hi > 0"}], "mark": {"type": "rule", "color": "black", "strokeWidth": 2.5},
         "encoding": {"y": {"field": "lo", "type": "quantitative", "title": "Response (% TIme)", "axis": {"values": [0, 10, 20, 30, 40, 50, 60, 70, 80], "labelOverlap": false, "titleFontSize": 21, "titleY": 143.5}}, "y2": {"field": "hi"}}},
        {"transform": [{"filter": "datum.hi > 0"}], "mark": {"type": "tick", "color": "black", "thickness": 2.5, "size": 16},
         "encoding": {"y": {"field": "hi", "type": "quantitative", "title": "Response (% TIme)", "axis": {"values": [0, 10, 20, 30, 40, 50, 60, 70, 80], "labelOverlap": false, "titleFontSize": 21, "titleY": 143.5}}}},
        {"transform": [{"filter": "datum.hi > 0"}], "mark": {"type": "tick", "color": "black", "thickness": 2.5, "size": 16},
         "encoding": {"y": {"field": "lo", "type": "quantitative", "title": "Response (% TIme)", "axis": {"values": [0, 10, 20, 30, 40, 50, 60, 70, 80], "labelOverlap": false, "titleFontSize": 21, "titleY": 143.5}}}},
        {"transform": [{"filter": "datum.sig == '*'"}], "mark": {"type": "text", "text": "*", "dy": -25, "fontSize": 22, "color": "black"},
         "encoding": {"y": {"field": "hi", "type": "quantitative", "title": "Response (% TIme)", "axis": {"values": [0, 10, 20, 30, 40, 50, 60, 70, 80], "labelOverlap": false, "titleFontSize": 21, "titleY": 143.5}}}}
      ]
    },
    {
      "width": 488, "height": 297,
      "data": {"name": "d"},
      "title": {"text": "Antennae movement", "dx": 12, "offset": 11.5},
      "transform": [{"filter": "datum.panel == 'antm'"}],
      "encoding": {
        "x": {"field": "cat", "type": "nominal", "scale": {"domain": ["mono", "empty bag", "fish bag"], "paddingInner": 0, "paddingOuter": 0}, "axis": {"title": null, "tickBand": "extent", "labelAngle": 0, "labelPadding": 15}},
        "xOffset": {"field": "trt", "type": "nominal", "scale": {"domain": ["Control water 1", "Food solution", "Control water 2", "F+PCW"], "paddingInner": 0, "paddingOuter": 0.71}}
      },
      "layer": [
        {"mark": {"type": "bar", "stroke": "black", "strokeWidth": 2},
         "encoding": {
           "y": {"field": "mean", "type": "quantitative", "title": "Response (% TIme)", "scale": {"domain": [0, 80], "nice": false}, "axis": {"values": [0, 10, 20, 30, 40, 50, 60, 70, 80], "labelOverlap": false, "titleFontSize": 21, "titleY": 142.5}},
           "color": {"field": "trt", "type": "nominal", "scale": {"domain": ["Control water 1", "Food solution", "Control water 2", "F+PCW"]},
             "legend": {"title": null, "orient": "none", "direction": "horizontal", "legendX": 8, "legendY": -48.5, "columns": 2, "columnPadding": 26, "rowPadding": 14.5, "labelFontSize": 21,
               "labelExpr": "datum.label == 'Control water 1' || datum.label == 'Control water 2' ? 'Control water' : datum.label"}}
         }},
        {"transform": [{"filter": "datum.trt == 'F+PCW'"}],
         "mark": {"type": "bar", "stroke": "black", "strokeWidth": 2,
          "fill": {"gradient": "linear", "x1": 0, "y1": 0, "x2": 0.231, "y2": 1.154, "stops": [
          {"offset": 0, "color": "#fff"}, {"offset": 0.012, "color": "#fff"}, {"offset": 0.012, "color": "#444"}, {"offset": 0.02, "color": "#444"},
          {"offset": 0.02, "color": "#fff"}, {"offset": 0.032, "color": "#fff"}, {"offset": 0.032, "color": "#444"}, {"offset": 0.04, "color": "#444"},
          {"offset": 0.04, "color": "#fff"}, {"offset": 0.052, "color": "#fff"}, {"offset": 0.052, "color": "#444"}, {"offset": 0.06, "color": "#444"},
          {"offset": 0.06, "color": "#fff"}, {"offset": 0.072, "color": "#fff"}, {"offset": 0.072, "color": "#444"}, {"offset": 0.08, "color": "#444"},
          {"offset": 0.08, "color": "#fff"}, {"offset": 0.092, "color": "#fff"}, {"offset": 0.092, "color": "#444"}, {"offset": 0.1, "color": "#444"},
          {"offset": 0.1, "color": "#fff"}, {"offset": 0.112, "color": "#fff"}, {"offset": 0.112, "color": "#444"}, {"offset": 0.12, "color": "#444"},
          {"offset": 0.12, "color": "#fff"}, {"offset": 0.132, "color": "#fff"}, {"offset": 0.132, "color": "#444"}, {"offset": 0.14, "color": "#444"},
          {"offset": 0.14, "color": "#fff"}, {"offset": 0.152, "color": "#fff"}, {"offset": 0.152, "color": "#444"}, {"offset": 0.16, "color": "#444"},
          {"offset": 0.16, "color": "#fff"}, {"offset": 0.172, "color": "#fff"}, {"offset": 0.172, "color": "#444"}, {"offset": 0.18, "color": "#444"},
          {"offset": 0.18, "color": "#fff"}, {"offset": 0.192, "color": "#fff"}, {"offset": 0.192, "color": "#444"}, {"offset": 0.2, "color": "#444"},
          {"offset": 0.2, "color": "#fff"}, {"offset": 0.212, "color": "#fff"}, {"offset": 0.212, "color": "#444"}, {"offset": 0.22, "color": "#444"},
          {"offset": 0.22, "color": "#fff"}, {"offset": 0.232, "color": "#fff"}, {"offset": 0.232, "color": "#444"}, {"offset": 0.24, "color": "#444"},
          {"offset": 0.24, "color": "#fff"}, {"offset": 0.252, "color": "#fff"}, {"offset": 0.252, "color": "#444"}, {"offset": 0.26, "color": "#444"},
          {"offset": 0.26, "color": "#fff"}, {"offset": 0.272, "color": "#fff"}, {"offset": 0.272, "color": "#444"}, {"offset": 0.28, "color": "#444"},
          {"offset": 0.28, "color": "#fff"}, {"offset": 0.292, "color": "#fff"}, {"offset": 0.292, "color": "#444"}, {"offset": 0.3, "color": "#444"},
          {"offset": 0.3, "color": "#fff"}, {"offset": 0.312, "color": "#fff"}, {"offset": 0.312, "color": "#444"}, {"offset": 0.32, "color": "#444"},
          {"offset": 0.32, "color": "#fff"}, {"offset": 0.332, "color": "#fff"}, {"offset": 0.332, "color": "#444"}, {"offset": 0.34, "color": "#444"},
          {"offset": 0.34, "color": "#fff"}, {"offset": 0.352, "color": "#fff"}, {"offset": 0.352, "color": "#444"}, {"offset": 0.36, "color": "#444"},
          {"offset": 0.36, "color": "#fff"}, {"offset": 0.372, "color": "#fff"}, {"offset": 0.372, "color": "#444"}, {"offset": 0.38, "color": "#444"},
          {"offset": 0.38, "color": "#fff"}, {"offset": 0.392, "color": "#fff"}, {"offset": 0.392, "color": "#444"}, {"offset": 0.4, "color": "#444"},
          {"offset": 0.4, "color": "#fff"}, {"offset": 0.412, "color": "#fff"}, {"offset": 0.412, "color": "#444"}, {"offset": 0.42, "color": "#444"},
          {"offset": 0.42, "color": "#fff"}, {"offset": 0.432, "color": "#fff"}, {"offset": 0.432, "color": "#444"}, {"offset": 0.44, "color": "#444"},
          {"offset": 0.44, "color": "#fff"}, {"offset": 0.452, "color": "#fff"}, {"offset": 0.452, "color": "#444"}, {"offset": 0.46, "color": "#444"},
          {"offset": 0.46, "color": "#fff"}, {"offset": 0.472, "color": "#fff"}, {"offset": 0.472, "color": "#444"}, {"offset": 0.48, "color": "#444"},
          {"offset": 0.48, "color": "#fff"}, {"offset": 0.492, "color": "#fff"}, {"offset": 0.492, "color": "#444"}, {"offset": 0.5, "color": "#444"},
          {"offset": 0.5, "color": "#fff"}, {"offset": 0.512, "color": "#fff"}, {"offset": 0.512, "color": "#444"}, {"offset": 0.52, "color": "#444"},
          {"offset": 0.52, "color": "#fff"}, {"offset": 0.532, "color": "#fff"}, {"offset": 0.532, "color": "#444"}, {"offset": 0.54, "color": "#444"},
          {"offset": 0.54, "color": "#fff"}, {"offset": 0.552, "color": "#fff"}, {"offset": 0.552, "color": "#444"}, {"offset": 0.56, "color": "#444"},
          {"offset": 0.56, "color": "#fff"}, {"offset": 0.572, "color": "#fff"}, {"offset": 0.572, "color": "#444"}, {"offset": 0.58, "color": "#444"},
          {"offset": 0.58, "color": "#fff"}, {"offset": 0.592, "color": "#fff"}, {"offset": 0.592, "color": "#444"}, {"offset": 0.6, "color": "#444"},
          {"offset": 0.6, "color": "#fff"}, {"offset": 0.612, "color": "#fff"}, {"offset": 0.612, "color": "#444"}, {"offset": 0.62, "color": "#444"},
          {"offset": 0.62, "color": "#fff"}, {"offset": 0.632, "color": "#fff"}, {"offset": 0.632, "color": "#444"}, {"offset": 0.64, "color": "#444"},
          {"offset": 0.64, "color": "#fff"}, {"offset": 0.652, "color": "#fff"}, {"offset": 0.652, "color": "#444"}, {"offset": 0.66, "color": "#444"},
          {"offset": 0.66, "color": "#fff"}, {"offset": 0.672, "color": "#fff"}, {"offset": 0.672, "color": "#444"}, {"offset": 0.68, "color": "#444"},
          {"offset": 0.68, "color": "#fff"}, {"offset": 0.692, "color": "#fff"}, {"offset": 0.692, "color": "#444"}, {"offset": 0.7, "color": "#444"},
          {"offset": 0.7, "color": "#fff"}, {"offset": 0.712, "color": "#fff"}, {"offset": 0.712, "color": "#444"}, {"offset": 0.72, "color": "#444"},
          {"offset": 0.72, "color": "#fff"}, {"offset": 0.732, "color": "#fff"}, {"offset": 0.732, "color": "#444"}, {"offset": 0.74, "color": "#444"},
          {"offset": 0.74, "color": "#fff"}, {"offset": 0.752, "color": "#fff"}, {"offset": 0.752, "color": "#444"}, {"offset": 0.76, "color": "#444"},
          {"offset": 0.76, "color": "#fff"}, {"offset": 0.772, "color": "#fff"}, {"offset": 0.772, "color": "#444"}, {"offset": 0.78, "color": "#444"},
          {"offset": 0.78, "color": "#fff"}, {"offset": 0.792, "color": "#fff"}, {"offset": 0.792, "color": "#444"}, {"offset": 0.8, "color": "#444"},
          {"offset": 0.8, "color": "#fff"}, {"offset": 0.812, "color": "#fff"}, {"offset": 0.812, "color": "#444"}, {"offset": 0.82, "color": "#444"},
          {"offset": 0.82, "color": "#fff"}, {"offset": 0.832, "color": "#fff"}, {"offset": 0.832, "color": "#444"}, {"offset": 0.84, "color": "#444"},
          {"offset": 0.84, "color": "#fff"}, {"offset": 0.852, "color": "#fff"}, {"offset": 0.852, "color": "#444"}, {"offset": 0.86, "color": "#444"},
          {"offset": 0.86, "color": "#fff"}, {"offset": 0.872, "color": "#fff"}, {"offset": 0.872, "color": "#444"}, {"offset": 0.88, "color": "#444"},
          {"offset": 0.88, "color": "#fff"}, {"offset": 0.892, "color": "#fff"}, {"offset": 0.892, "color": "#444"}, {"offset": 0.9, "color": "#444"},
          {"offset": 0.9, "color": "#fff"}, {"offset": 0.912, "color": "#fff"}, {"offset": 0.912, "color": "#444"}, {"offset": 0.92, "color": "#444"},
          {"offset": 0.92, "color": "#fff"}, {"offset": 0.932, "color": "#fff"}, {"offset": 0.932, "color": "#444"}, {"offset": 0.94, "color": "#444"},
          {"offset": 0.94, "color": "#fff"}, {"offset": 0.952, "color": "#fff"}, {"offset": 0.952, "color": "#444"}, {"offset": 0.96, "color": "#444"},
          {"offset": 0.96, "color": "#fff"}, {"offset": 0.972, "color": "#fff"}, {"offset": 0.972, "color": "#444"}, {"offset": 0.98, "color": "#444"},
          {"offset": 0.98, "color": "#fff"}, {"offset": 0.992, "color": "#fff"}, {"offset": 0.992, "color": "#444"}, {"offset": 1, "color": "#444"}]}},
         "encoding": {"y": {"field": "mean", "type": "quantitative", "title": "Response (% TIme)", "axis": {"values": [0, 10, 20, 30, 40, 50, 60, 70, 80], "labelOverlap": false, "titleFontSize": 21, "titleY": 142.5}}}},
        {"transform": [{"filter": "datum.hi > 0"}], "mark": {"type": "rule", "color": "black", "strokeWidth": 2.5},
         "encoding": {"y": {"field": "lo", "type": "quantitative", "title": "Response (% TIme)", "axis": {"values": [0, 10, 20, 30, 40, 50, 60, 70, 80], "labelOverlap": false, "titleFontSize": 21, "titleY": 142.5}}, "y2": {"field": "hi"}}},
        {"transform": [{"filter": "datum.hi > 0"}], "mark": {"type": "tick", "color": "black", "thickness": 2.5, "size": 16},
         "encoding": {"y": {"field": "hi", "type": "quantitative", "title": "Response (% TIme)", "axis": {"values": [0, 10, 20, 30, 40, 50, 60, 70, 80], "labelOverlap": false, "titleFontSize": 21, "titleY": 142.5}}}},
        {"transform": [{"filter": "datum.hi > 0"}], "mark": {"type": "tick", "color": "black", "thickness": 2.5, "size": 16},
         "encoding": {"y": {"field": "lo", "type": "quantitative", "title": "Response (% TIme)", "axis": {"values": [0, 10, 20, 30, 40, 50, 60, 70, 80], "labelOverlap": false, "titleFontSize": 21, "titleY": 142.5}}}},
        {"transform": [{"filter": "datum.sig == '*'"}], "mark": {"type": "text", "text": "*", "dy": -25, "fontSize": 22, "color": "black"},
         "encoding": {"y": {"field": "hi", "type": "quantitative", "title": "Response (% TIme)", "axis": {"values": [0, 10, 20, 30, 40, 50, 60, 70, 80], "labelOverlap": false, "titleFontSize": 21, "titleY": 142.5}}}}
      ]
    }
  ]
}
